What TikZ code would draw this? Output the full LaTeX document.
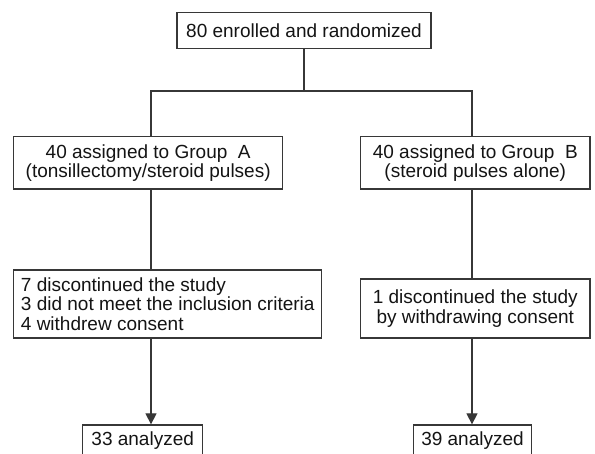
\documentclass[tikz,border=0pt]{standalone}
\usepackage{fontspec}
\setmainfont{Liberation Sans}
\usetikzlibrary{arrows.meta}
\definecolor{linec}{RGB}{55,55,55}
\definecolor{textc}{RGB}{20,20,20}
\begin{document}
\begin{tikzpicture}[x=1pt,y=1pt,
  box/.style={draw=linec, line width=1.3pt, rectangle, inner sep=0pt,
    font=\fontsize{19}{19.4}\selectfont, text=textc},
  conn/.style={draw=linec, line width=1.3pt},
  arr/.style={conn, -{Triangle[width=11pt,length=11pt]}}]
\useasboundingbox (0,0) rectangle (595,453);
\clip (0,0) rectangle (595,453);
\fill[white] (0,0) rectangle (595,453);

\node[box, minimum width=254pt, minimum height=35.6pt] (top) at (304,422.5) {80 enrolled and randomized};
\node[box, minimum width=269pt, minimum height=52.3pt, align=center] (ga) at (148.2,290.15)
  {40 assigned to Group~~A\\(tonsillectomy/steroid pulses)};
\node[box, minimum width=229.5pt, minimum height=52.3pt, align=center] (gb) at (475.25,290.15)
  {40 assigned to Group~~B\\(steroid pulses alone)};
\node[box, minimum width=308.1pt, minimum height=68pt, align=left] (a2) at (167.75,149)
  {7 discontinued the study\\3 did not meet the inclusion criteria\\4 withdrew consent};
\node[box, minimum width=229.5pt, minimum height=59pt, align=center] (b2) at (475.25,144.5)
  {1 discontinued the study\\by withdrawing consent};
\node[box, minimum width=120pt, minimum height=30.4pt] (a3) at (142.7,12.8) {33 analyzed};
\node[box, minimum width=118.4pt, minimum height=30.4pt] (b3) at (472.5,12.8) {39 analyzed};

\coordinate (sl) at (151,362);
\coordinate (sr) at (472,362);
\draw[conn] (top.south) -- (top.south |- sl);
\draw[conn] (sl |- ga.north) -- (sl) -- (sr) -- (sr |- gb.north);
\draw[conn] (sl |- ga.south) -- (sl |- a2.north);
\draw[conn] (sr |- gb.south) -- (sr |- b2.north);
\draw[arr] (sl |- a2.south) -- (sl |- a3.north);
\draw[arr] (sr |- b2.south) -- (sr |- b3.north);
\end{tikzpicture}
\end{document}
